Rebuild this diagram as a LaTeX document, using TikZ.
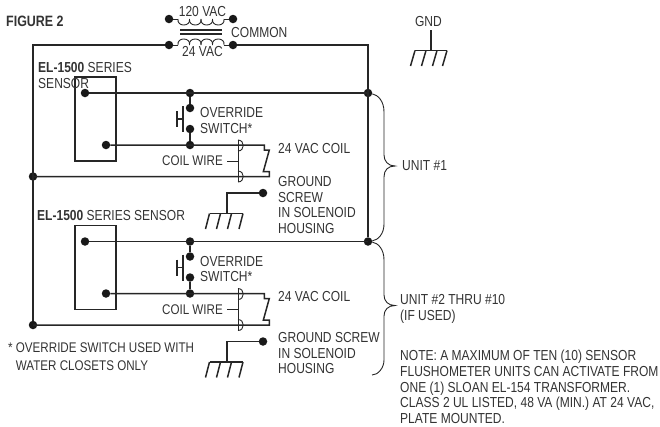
\documentclass[tikz,border=0pt]{standalone}
\usepackage{fontspec}
\setmainfont{Liberation Sans}[FakeStretch=0.83]
\tikzset{
  wire/.style={line width=1.5pt,black!85},
  thinwire/.style={line width=0.9pt,black!85},
  wiredot/.style={circle,fill=black!90,inner sep=0pt,minimum size=8.5pt},
  txt/.style={anchor=west,inner sep=0pt,align=left,text=black!80,font=\fontsize{14.5}{15.9}\selectfont},
}
\begin{document}
\begin{tikzpicture}[x=1pt,y=-1pt]
\useasboundingbox (0,0) rectangle (660,426);
% transformer
\node[wiredot] (tl) at (169,19) {};
\node[wiredot] (tr) at (233,19) {};
\node[wiredot] (bl) at (169,45) {};
\node[wiredot] (br) at (233,45) {};
\coordinate (tla) at (178,19);
\coordinate (tra) at (224,19);
\coordinate (bla) at (178,45);
\coordinate (bra) at (224,45);
\draw[thinwire] (tl) -- (tla);
\draw[thinwire] (tra) -- (tr);
\draw[thinwire] (bl) -- (bla);
\draw[thinwire] (bra) -- (br);
\foreach \x in {178,189.5,201,212.5} \draw[thinwire] (\x,19) .. controls (\x-1.5,27) and (\x+13,27) .. (\x+11.5,19);
\foreach \x in {178,189.5,201,212.5} \draw[thinwire] (\x,45) .. controls (\x-1.5,37) and (\x+13,37) .. (\x+11.5,45);
\foreach \y in {30,34} \draw[wire] (180,\y) -- (222,\y);
\node[txt,anchor=center] (vac120) at (202.5,12) {120 VAC};
\node[txt,anchor=center] (vac24) at (202.5,52) {24 VAC};
\node[txt] (common) at (231,33) {COMMON};
\node[txt,font=\fontsize{15}{15.9}\bfseries] (fig) at (6,21) {FIGURE 2};
% main rails
\coordinate (ctl) at (33,45);
\coordinate (ctr) at (368,45);
\node[wiredot] (lrail) at (33,176.5) {};
\node[wiredot] (lend) at (33,325) {};
\node[wiredot] (rrail) at (368,93) {};
\node[wiredot] (rend) at (368,241.5) {};
\draw[wire] (bl) -- (ctl) -- (lend);
\draw[wire] (br) -- (ctr) -- (rend);
% the two units
\foreach \u/\d in {a/0,b/148.5} {
  \begin{scope}[yshift=-\d pt]
  \draw[wire] (75,77) rectangle (116,161);
  \node[wiredot] (top\u) at (85,93) {};
  \node[wiredot] (tee\u) at (190,93) {};
  \node[wiredot] (swa\u) at (190,108) {};
  \node[wiredot] (swb\u) at (190,129) {};
  \node[wiredot] (jun\u) at (190,145) {};
  \node[wiredot] (low\u) at (106,145) {};
  \coordinate (cna\u) at (264.3,145);
  \coordinate (cnb\u) at (269.3,176.5);
  \coordinate (cnc\u) at (33,176.5);
  \coordinate (cnd\u) at (368,93);
  \draw[wire] (top\u) -- (cnd\u);
  \draw[wire] (tee\u) -- (swa\u);
  \draw[wire] (swb\u) -- (jun\u);
  \draw[wire] (low\u) -- (cna\u) -- ++(0,5) -- ++(5,0) -- (263.3,171.7) -- (269.3,171.7) -- (cnb\u) -- (cnc\u);
  % switch
  \draw[wire] (183,106) -- (183,132);
  \draw[wire] (177,111) -- (177,127);
  \draw[wire] (177,119) -- (183,119);
  % plug
  \draw[thinwire] (238,140) -- (238,182);
  \draw[thinwire] (238,140) .. controls (245,140) and (245,151) .. (238,151);
  \draw[thinwire] (238,171) .. controls (245,171) and (245,182) .. (238,182);
  \coordinate (cw\u) at (227,161);
  \coordinate (cwe\u) at (238,161);
  \draw[thinwire] (cw\u) -- (cwe\u);
  \node[txt,anchor=east,font=\fontsize{14}{15.9}\selectfont] (cwl\u) at (223,161) {COIL WIRE};
  \node[txt] (ovr\u) at (200,120.5) {OVERRIDE\\SWITCH*};
  \node[txt] (coil\u) at (278,148.5) {24 VAC COIL};
  % earth
  \node[wiredot] (scr\u) at (263,193) {};
  \coordinate (ear\u) at (227,193);
  \coordinate (gnd\u) at (227,213.5);
  \draw[wire] (scr\u) -- (ear\u) -- (gnd\u);
  \draw[wire] (209.5,213.5) -- (243,213.5);
  \foreach \x in {209.5,220.5,231.5,243} \draw[wire] (\x,213.5) -- (\x-4,229);
  \end{scope}
}
\node[txt] (sena) at (38,75.5) {\textbf{EL-1500} SERIES\\SENSOR};
\node[txt] (senb) at (37,216) {\textbf{EL-1500} SERIES SENSOR};
\node[txt] (grda) at (278,205) {GROUND\\SCREW\\IN SOLENOID\\HOUSING};
\node[txt] (grdb) at (278,353) {GROUND SCREW\\IN SOLENOID\\HOUSING};
% earth symbol top right
\node[txt,anchor=center] (gndl) at (428.5,22) {GND};
\coordinate (gnda) at (431,30);
\coordinate (gndb) at (431,50.5);
\draw[wire] (gnda) -- (gndb);
\draw[wire] (415,50.5) -- (447,50.5);
\foreach \x in {415,426,437,447} \draw[wire] (\x,50.5) -- (\x-4.5,66);
% braces
\coordinate (bea) at (372,375);
\draw[thinwire] (rrail) .. controls (378,95) and (384,101) .. (384,112) -- (384,155) .. controls (384,161) and (388,166) .. (395,166) .. controls (388,166) and (384,170) .. (384,177) -- (384,224) .. controls (384,234) and (378,240) .. (rend);
\draw[thinwire] (rend) .. controls (378,243) and (384,249) .. (384,260) -- (384,295) .. controls (384,301) and (388,305.5) .. (395,305.5) .. controls (388,305.5) and (384,310) .. (384,316) -- (384,360) .. controls (384,368) and (378,375) .. (bea);
\node[txt] (unita) at (402,166) {UNIT \#1};
\node[txt] (unitb) at (400,308.5) {UNIT \#2 THRU \#10\\(IF USED)};
% notes
\node[txt,font=\fontsize{14}{18.4}\selectfont] (star) at (8,356.5) {* OVERRIDE SWITCH USED WITH\\\hphantom{* }WATER CLOSETS ONLY};
\node[txt,font=\fontsize{14.5}{15.8}\selectfont] (note) at (400,387) {NOTE: A MAXIMUM OF TEN (10) SENSOR\\FLUSHOMETER UNITS CAN ACTIVATE FROM\\ONE (1) SLOAN EL-154 TRANSFORMER.\\CLASS 2 UL LISTED, 48 VA (MIN.) AT 24 VAC,\\PLATE MOUNTED.};
\end{tikzpicture}
\end{document}
